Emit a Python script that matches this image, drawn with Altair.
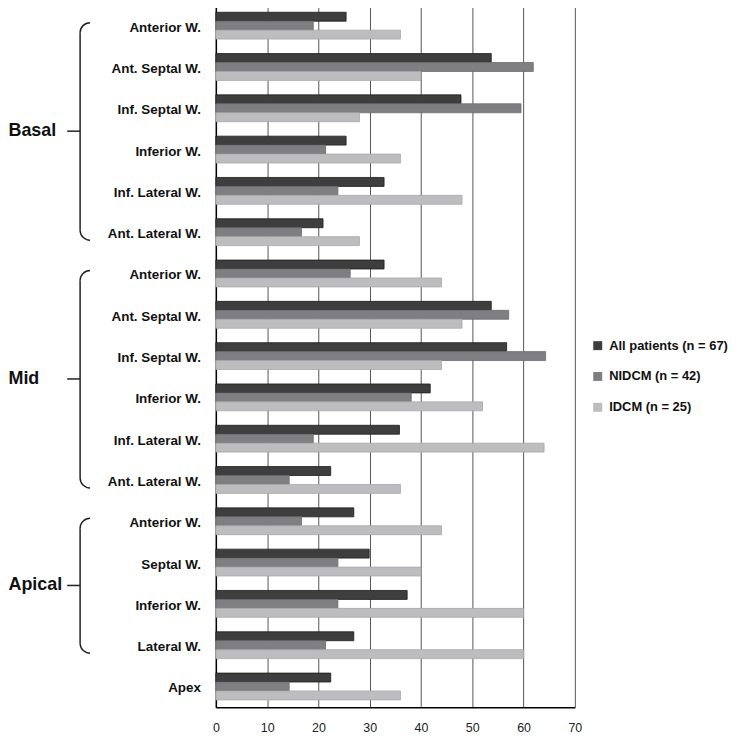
import math
import altair as alt
import pandas as pd

FONT = "Liberation Sans, Arial, Helvetica, sans-serif"

regions = ["Basal"] * 6 + ["Mid"] * 6 + ["Apical"] * 5
segments = [
    "Anterior W.", "Ant. Septal W.", "Inf. Septal W.", "Inferior W.", "Inf. Lateral W.", "Ant. Lateral W.",
    "Anterior W.", "Ant. Septal W.", "Inf. Septal W.", "Inferior W.", "Inf. Lateral W.", "Ant. Lateral W.",
    "Anterior W.", "Septal W.", "Inferior W.", "Lateral W.", "Apex",
]
series_names = ["All patients (n = 67)", "NIDCM (n = 42)", "IDCM (n = 25)"]
all_patients = [25.4, 53.7, 47.8, 25.4, 32.8, 20.9, 32.8, 53.7, 56.7, 41.8, 35.8, 22.4, 26.9, 29.9, 37.3, 26.9, 22.4]
nidcm = [19.0, 61.9, 59.5, 21.4, 23.8, 16.7, 26.2, 57.1, 64.3, 38.1, 19.0, 14.3, 16.7, 23.8, 23.8, 21.4, 14.3]
idcm = [36.0, 40.0, 28.0, 36.0, 48.0, 28.0, 44.0, 48.0, 44.0, 52.0, 64.0, 36.0, 44.0, 40.0, 60.0, 60.0, 36.0]
x_ticks = [0, 10, 20, 30, 40, 50, 60, 70]

fills = ["#3e3e3e", "#7f7f83", "#bdbdc0"]
strokes = ["#1c1c1c", "#6c6c70", "#a8a8ab"]

# brace groups (first, middle-upper, last item of each region)
brace_regions = ["Basal", "Mid", "Apical"]
brace_start = [0, 6, 12]
brace_mid = [2, 8, 13]
brace_end = [5, 11, 15]

keys = [f"{r}|{s}" for r, s in zip(regions, segments)]

rows = []
for i, k in enumerate(keys):
    for name, vals in zip(series_names, [all_patients, nidcm, idcm]):
        rows.append({"key": k, "series": name, "value": vals[i]})
df = pd.DataFrame(rows)

bdf = pd.DataFrame({
    "region": brace_regions,
    "start": [keys[i] for i in brace_start],
    "mid": [keys[i] for i in brace_mid],
    "end": [keys[i] for i in brace_end],
})

yscale = alt.Scale(domain=keys, paddingInner=0.35, paddingOuter=0.175)

bars = alt.Chart(df).mark_bar(strokeWidth=0.8).encode(
    x=alt.X("value:Q", title=None,
            scale=alt.Scale(domain=[0, 70], nice=False),
            axis=alt.Axis(values=x_ticks, ticks=False, labelPadding=14, labelFontSize=12.5,
                          labelFont=FONT, labelColor="#222", grid=True, gridColor="#555",
                          gridWidth=1, domainColor="black", domainWidth=1.5, labelFlush=False)),
    y=alt.Y("key:N", title=None, scale=yscale,
            axis=alt.Axis(labelExpr="split(datum.label, '|')[1]", labelFontSize=13.5,
                          labelFontWeight="bold", labelFont=FONT, labelColor="#111",
                          labelPadding=15.5, labelOffset=2, ticks=False, domainColor="black",
                          domainWidth=1.5, grid=False)),
    yOffset=alt.YOffset("series:N", sort=series_names,
                        scale=alt.Scale(domain=series_names, paddingInner=0, paddingOuter=0)),
    color=alt.Color("series:N", scale=alt.Scale(domain=series_names, range=fills),
                    legend=alt.Legend(title=None, orient="none", legendX=377.5, legendY=336,
                                      symbolType="square", symbolSize=81, symbolStrokeWidth=0,
                                      labelFontSize=13, labelFontWeight="bold", labelFont=FONT,
                                      labelColor="#111", labelOffset=5, rowPadding=17)),
    stroke=alt.Stroke("series:N", scale=alt.Scale(domain=series_names, range=strokes), legend=None),
)

VX = -136.5
R = 10
EXT_TOP = 3
EXT_BOT = 8
BRACE = "#222"

vline = alt.Chart(bdf).mark_rule(color=BRACE, strokeWidth=1.5, yOffset=R - EXT_TOP,
                                 y2Offset=EXT_BOT - R).encode(
    x=alt.value(VX),
    y=alt.Y("start:N", title=None, scale=yscale),
    y2="end:N",
)
top_arc = alt.Chart(bdf).mark_arc(color=BRACE, radius=R + 0.75, radius2=R - 0.75,
                                  theta=3 * math.pi / 2, theta2=2 * math.pi,
                                  yOffset=R - EXT_TOP).encode(
    x=alt.value(VX + R),
    y=alt.Y("start:N", title=None, scale=yscale),
)
bot_arc = alt.Chart(bdf).mark_arc(color=BRACE, radius=R + 0.75, radius2=R - 0.75,
                                  theta=math.pi, theta2=3 * math.pi / 2,
                                  yOffset=EXT_BOT - R).encode(
    x=alt.value(VX + R),
    y=alt.Y("end:N", title=None, scale=yscale),
)
stub = alt.Chart(bdf).mark_rule(color=BRACE, strokeWidth=1.5, yOffset=23).encode(
    x=alt.value(-149.5),
    x2=alt.value(VX),
    y=alt.Y("mid:N", title=None, scale=yscale),
)
label = alt.Chart(bdf).mark_text(align="left", baseline="middle", fontSize=18, fontWeight="bold",
                                 font=FONT, color="#111", dy=23).encode(
    x=alt.value(-208.5),
    y=alt.Y("mid:N", title=None, scale=yscale),
    text="region:N",
)

chart = alt.layer(bars, vline, top_arc, bot_arc, stub, label).properties(
    width=361, height=706, padding={"top": -5, "left": 0, "right": 0, "bottom": 0}
).configure_view(strokeWidth=0)

chart.save("out.html", embed_options={"renderer": "svg", "actions": False})
